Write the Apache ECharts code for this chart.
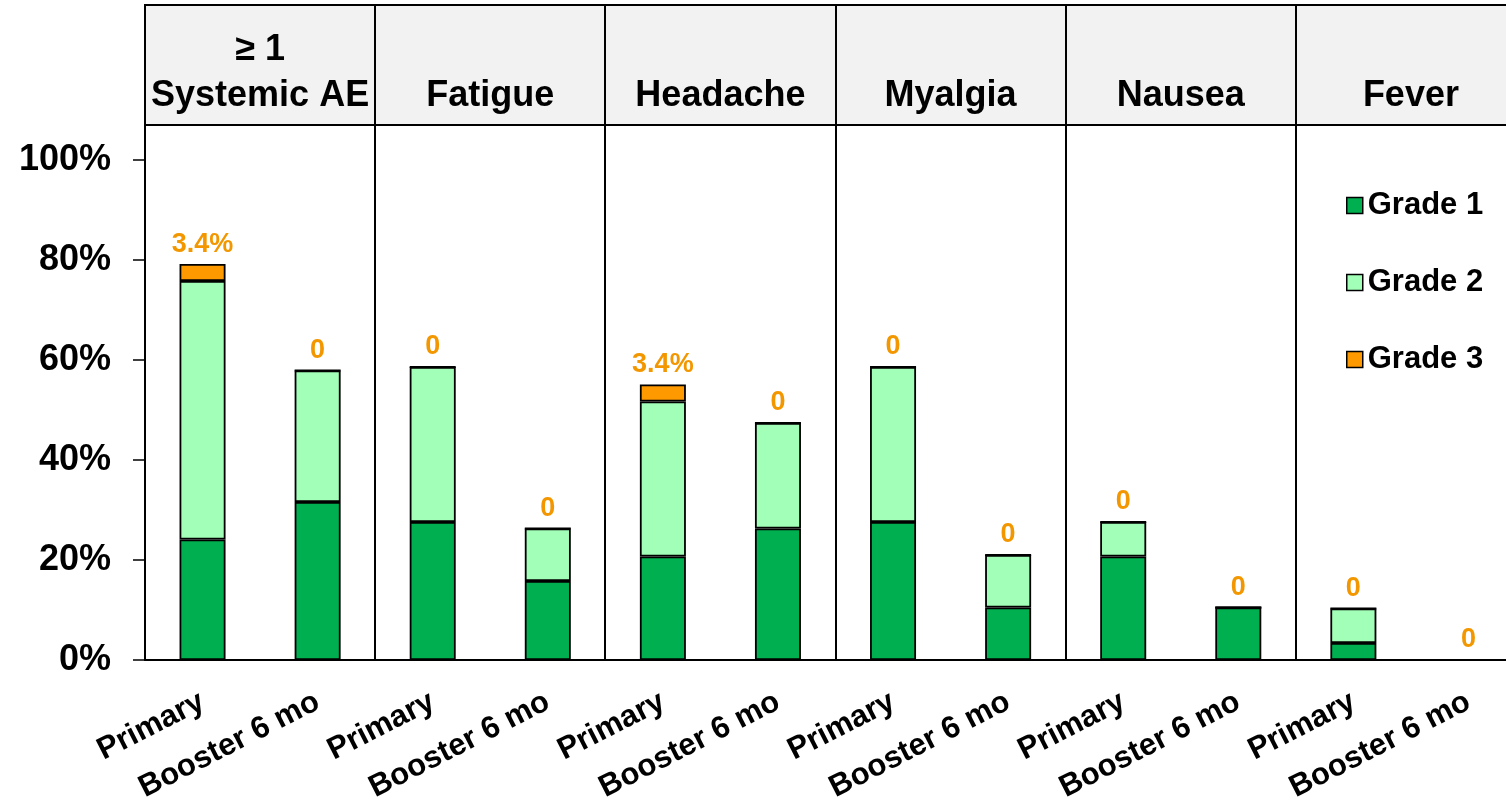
<!DOCTYPE html>
<html>
<head>
<meta charset="utf-8">
<script src="https://cdn.jsdelivr.net/npm/echarts@6/dist/echarts.min.js"></script>
<style>
  html, body { margin: 0; padding: 0; background: #fff; }
  #chart { width: 1506px; height: 808px; }
</style>
</head>
<body>
<div id="chart"></div>
<script>
// Systemic adverse events by severity grade, primary series vs 6-month booster (% of participants)
const groups = ['≥ 1\nSystemic AE', 'Fatigue', 'Headache', 'Myalgia', 'Nausea', 'Fever'];
const timepoints = ['Primary', 'Booster 6 mo'];

// Values ordered group by group: [Primary, Booster 6 mo] for each group
const grade1 = [24.1, 31.6, 27.6, 15.8, 20.7, 26.3, 27.6, 10.5, 20.7, 10.5, 3.4, 0];
const grade2 = [51.7, 26.3, 31.0, 10.5, 31.0, 21.1, 31.0, 10.5, 6.9, 0, 6.9, 0];
const grade3 = [3.4, 0, 0, 0, 3.4, 0, 0, 0, 0, 0, 0, 0];

const yTicks = [0, 20, 40, 60, 80, 100];

const FONT = '"Liberation Sans", Arial, sans-serif';
const GRID_LEFT = 145, GRID_TOP = 160, GRID_BOTTOM = 148, GRID_WIDTH = 1381;
const HEADER_TOP = 5, HEADER_BOTTOM = 125, PLOT_BOTTOM = 808 - GRID_BOTTOM;

// unique category keys so repeated time point names stay distinct
const categories = [];
groups.forEach((g, gi) => timepoints.forEach(t => categories.push(gi + '|' + t)));

const colors = { g1: '#00b050', g2: '#a2ffb8', g3: '#ff9900', label: '#f39700' };

const barStyle = (c) => ({ color: c, borderColor: '#000', borderWidth: 1.8 });

// header band with group titles and divider lines
const graphic = [];
const groupW = GRID_WIDTH / groups.length;
graphic.push({
  type: 'rect', z: 0,
  shape: { x: GRID_LEFT, y: HEADER_TOP, width: GRID_WIDTH, height: HEADER_BOTTOM - HEADER_TOP },
  style: { fill: '#f2f2f2', stroke: '#000', lineWidth: 2 }
});
for (let i = 0; i <= groups.length; i++) {
  const x = Math.round(GRID_LEFT + i * groupW);
  graphic.push({
    type: 'line', z: 5,
    shape: { x1: x, y1: HEADER_TOP, x2: x, y2: PLOT_BOTTOM },
    style: { stroke: '#000', lineWidth: 2 }
  });
}
groups.forEach((g, i) => {
  graphic.push({
    type: 'text', z: 6,
    x: GRID_LEFT + (i + 0.5) * groupW,
    y: 119,
    style: {
      text: g, fill: '#000', font: 'bold 36px ' + FONT,
      textAlign: 'center', textVerticalAlign: 'bottom', lineHeight: 46
    }
  });
});

const option = {
  backgroundColor: '#fff',
  animation: false,
  textStyle: { fontFamily: FONT },
  grid: {
    left: GRID_LEFT, top: GRID_TOP, bottom: GRID_BOTTOM, width: GRID_WIDTH,
    containLabel: false, outerBoundsMode: 'none'
  },
  legend: {
    orient: 'vertical',
    left: 1346, top: 190, padding: 0,
    icon: 'rect',
    itemWidth: 16, itemHeight: 16, itemGap: 46, itemTextGap: 8,
    itemStyle: { borderColor: '#000', borderWidth: 1.5 },
    textStyle: { fontSize: 31, fontWeight: 'bold', color: '#000', fontFamily: FONT, lineHeight: 30 },
    data: ['Grade 1', 'Grade 2', 'Grade 3']
  },
  xAxis: {
    type: 'category',
    data: categories,
    axisLine: { lineStyle: { color: '#000', width: 2 } },
    axisTick: { show: false },
    axisLabel: {
      interval: 0, rotate: 27, margin: 40,
      fontSize: 31, fontWeight: 'bold', color: '#000', fontFamily: FONT,
      formatter: v => v.split('|')[1]
    }
  },
  yAxis: {
    type: 'value',
    min: yTicks[0], max: yTicks[yTicks.length - 1], interval: yTicks[1] - yTicks[0],
    axisLine: { show: true, lineStyle: { color: '#000', width: 2 } },
    axisTick: { show: true, length: 12, lineStyle: { color: '#000', width: 1.5 } },
    splitLine: { show: false },
    axisLabel: {
      margin: 34, fontSize: 36, fontWeight: 'bold', color: '#000', fontFamily: FONT,
      formatter: '{value}%'
    }
  },
  series: [
    { name: 'Grade 1', type: 'bar', stack: 'total', barWidth: 46, data: grade1, itemStyle: barStyle(colors.g1) },
    { name: 'Grade 2', type: 'bar', stack: 'total', barWidth: 46, data: grade2, itemStyle: barStyle(colors.g2) },
    {
      name: 'Grade 3', type: 'bar', stack: 'total', barWidth: 46, data: grade3, itemStyle: barStyle(colors.g3),
      label: {
        show: true, position: 'top', distance: 6,
        fontSize: 27, fontWeight: 'bold', color: colors.label, fontFamily: FONT,
        formatter: p => (p.value === 0 ? '0' : p.value + '%')
      }
    }
  ],
  graphic: graphic
};

const chart = echarts.init(document.getElementById('chart'), null, { renderer: 'canvas' });
chart.setOption(option);
</script>
</body>
</html>
